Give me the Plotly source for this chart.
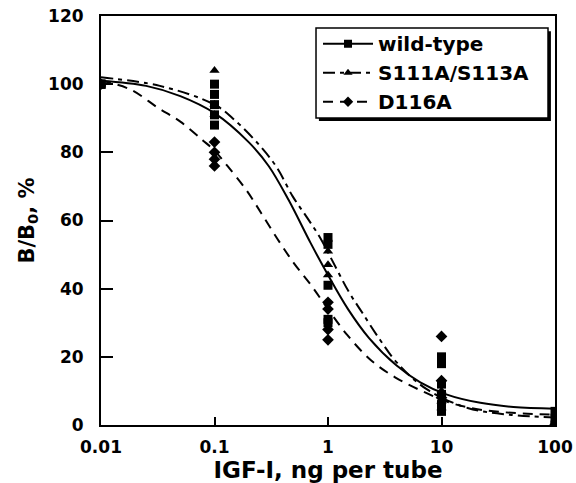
import plotly.graph_objects as go

wt_x = [0.01, 0.01, 0.01, 0.1, 0.1, 0.1, 0.1, 0.1, 1, 1, 1, 1, 1, 10, 10, 10, 10, 10, 10, 100, 100, 100]
wt_y = [100, 100, 100, 100, 97, 94, 91, 88, 55, 53, 41, 31, 30, 20, 18, 12, 9, 6, 4, 4, 2, 0]

mut_x = [0.01, 0.1, 0.1, 0.1, 1, 1, 1, 10, 10, 10, 100]
mut_y = [100, 104, 94, 91, 51, 47, 44, 10, 7, 5, 1]

d116_x = [0.01, 0.1, 0.1, 0.1, 0.1, 1, 1, 1, 1, 10, 10, 10, 100]
d116_y = [100, 83, 80, 78, 76, 36, 34, 28, 25, 26, 13, 8, 0]

# fitted curves
wt_fit_x = [0.01, 0.025, 0.05, 0.1, 0.2, 0.3, 0.45, 0.7, 1, 1.5, 2.3, 4, 6.5, 11, 22, 43, 100]
wt_fit_y = [101, 99.5, 96.5, 91.5, 83, 76, 66, 53.5, 44, 34, 25.5, 17.5, 12.5, 9, 6.5, 5.3, 4.8]

mut_fit_x = [0.01, 0.033, 0.1, 0.15, 0.25, 0.355, 0.49, 0.65, 0.85, 1.1, 1.53, 2.0, 2.87, 4.05, 7.4, 17, 40, 100]
mut_fit_y = [102, 99.5, 94, 89.5, 82, 75.5, 67, 61, 55, 48, 39, 33, 25, 18.3, 10.5, 5, 3, 2.2]

d116_fit_x = [0.01, 0.018, 0.032, 0.05, 0.079, 0.1, 0.13, 0.19, 0.26, 0.36, 0.5, 0.71, 1.0, 1.47, 2.39, 3.9, 6.7, 12, 22, 45, 100]
d116_fit_y = [101, 98.5, 93, 89, 83.5, 80.5, 76, 69, 62, 54.5, 47.5, 41, 34, 26.5, 19, 14, 10, 6.5, 4.5, 3.5, 3]

x_ticks = [0.01, 0.1, 1, 10, 100]
x_labels = ['0.01', '0.1', '1', '10', '100']
y_ticks = [0, 20, 40, 60, 80, 100, 120]

FONT = dict(family='DejaVu Sans, sans-serif', size=16, color='black', weight='bold')

series = [
    ('wild-type', wt_x, wt_y, wt_fit_x, wt_fit_y, 'square', 'solid'),
    ('S111A/S113A', mut_x, mut_y, mut_fit_x, mut_fit_y, 'triangle-up', '12px,5px,4px,5px'),
    ('D116A', d116_x, d116_y, d116_fit_x, d116_fit_y, 'diamond', '10px,7px'),
]

fig = go.Figure()
for name, px, py, fx, fy, sym, dash in series:
    fig.add_trace(go.Scatter(x=fx, y=fy, mode='lines', line=dict(color='black', width=2, dash=dash, shape='spline'),
                             showlegend=False, hoverinfo='skip'))
    fig.add_trace(go.Scatter(x=px, y=py, mode='markers', marker=dict(symbol=sym, color='black', size=9),
                             showlegend=False))
    # legend entry: line + marker
    fig.add_trace(go.Scatter(x=[None], y=[None], mode='lines+markers', name=name,
                             line=dict(color='black', width=2, dash=dash),
                             marker=dict(symbol=sym, color='black', size=8)))

# legend box with a drop shadow (paper coords)
fig.add_shape(type='rect', xref='paper', yref='paper', x0=0.480, x1=0.991, y0=0.743, y1=0.963,
              fillcolor='black', line_width=0, layer='above')
fig.add_shape(type='rect', xref='paper', yref='paper', x0=0.4736, x1=0.9846, y0=0.7506, y1=0.9707,
              fillcolor='white', line=dict(color='black', width=1.5), layer='above')

fig.update_layout(
    width=576, height=483,
    margin=dict(l=101, r=21, t=16, b=58),
    paper_bgcolor='white', plot_bgcolor='white',
    font=FONT,
    showlegend=True,
    legend=dict(x=0.478, y=0.98, xanchor='left', yanchor='top', bgcolor='rgba(0,0,0,0)',
                borderwidth=0, font=dict(size=20), tracegroupgap=0, itemwidth=50),
)
fig.update_xaxes(type='log', range=[-2, 2], tickvals=x_ticks, ticktext=x_labels, automargin=False,
                 ticks='inside', ticklen=8, tickwidth=1.5, tickcolor='black',
                 showline=True, linecolor='black', linewidth=2, mirror=True,
                 showgrid=False, zeroline=False, ticklabelstandoff=6, tickfont=dict(size=17),
                 title=dict(text='IGF-I, ng per tube', standoff=6, font=dict(size=23)))
fig.update_yaxes(range=[0, 120], tickvals=y_ticks, automargin=False,
                 ticks='inside', ticklen=12, tickwidth=1.5, tickcolor='black',
                 showline=True, linecolor='black', linewidth=2, mirror=True,
                 showgrid=False, zeroline=False, ticklabelstandoff=12, tickfont=dict(size=17),
                 title=dict(text='B/B<sub>0</sub>, %', standoff=8, font=dict(size=21)))

# drop the page's default 8px body margin so the figure sits at the window origin
fig.write_html('out.html', config={'displayModeBar': False},
               post_script="document.body.style.margin='0';")
